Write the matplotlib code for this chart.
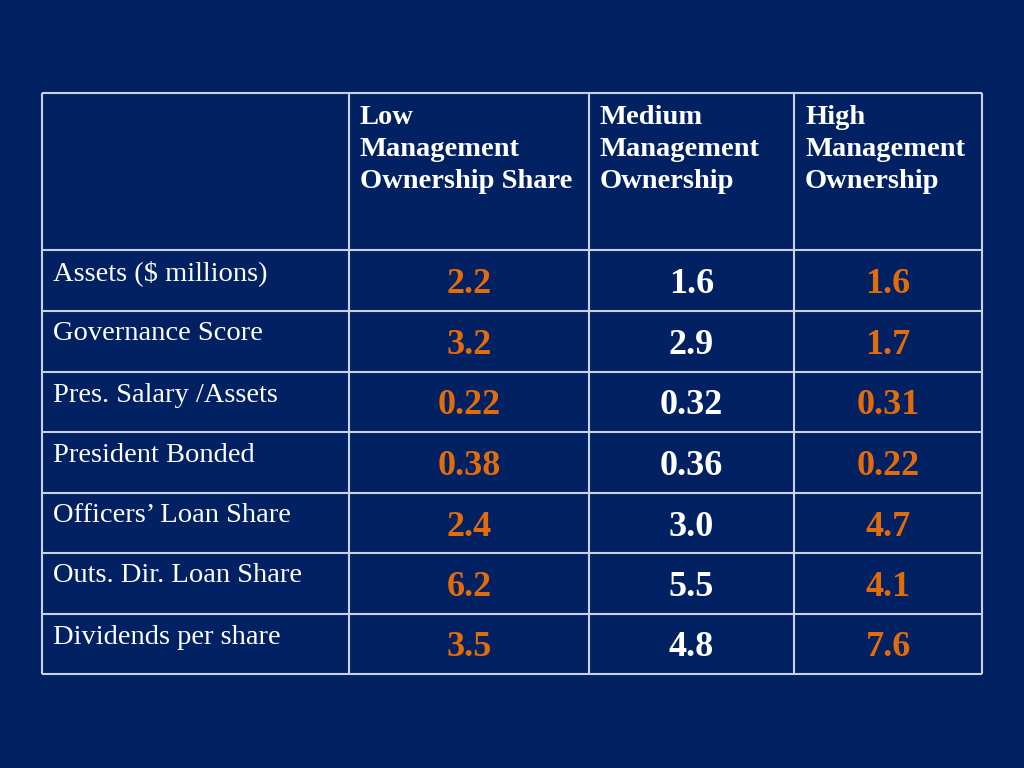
import matplotlib
matplotlib.use("Agg")
import matplotlib.pyplot as plt

# table contents
col_headers = ["Low\nManagement\nOwnership Share",
               "Medium\nManagement\nOwnership",
               "High\nManagement\nOwnership"]
row_labels = ["Assets ($ millions)", "Governance Score", "Pres. Salary /Assets",
              "President Bonded", "Officers\u2019 Loan Share", "Outs. Dir. Loan Share",
              "Dividends per share"]
low_vals = [2.2, 3.2, 0.22, 0.38, 2.4, 6.2, 3.5]
med_vals = [1.6, 2.9, 0.32, 0.36, 3.0, 5.5, 4.8]
high_vals = [1.6, 1.7, 0.31, 0.22, 4.7, 4.1, 7.6]
decimals = [1, 1, 2, 2, 1, 1, 1]

BG = "#012162"
ORANGE = "#E36C0A"
LINE = "#c9d1e3"
col_colors = [ORANGE, "white", ORANGE]

# layout in pixels
x_edges = [42, 349, 589, 794, 982]
y_edges = [93, 250, 311, 372, 432, 493, 553, 614, 674]

fig = plt.figure(figsize=(10.24, 7.68), dpi=100, facecolor=BG)
ax = fig.add_axes([0, 0, 1, 1])
ax.set_xlim(0, 1024)
ax.set_ylim(768, 0)
ax.axis("off")

ax.hlines(y_edges, x_edges[0], x_edges[-1], colors=LINE, linewidth=1.5)
ax.vlines(x_edges, y_edges[0], y_edges[-1], colors=LINE, linewidth=1.5)

font = "Liberation Serif"

# header cells
for j, head in enumerate(col_headers):
    for k, line in enumerate(head.split("\n")):
        ax.text(x_edges[j + 1] + 11, y_edges[0] + 24 + 32 * k, line,
                color="white", fontsize=20.5, fontweight="bold",
                family=font, ha="left", va="center")

# row labels and values
columns = [low_vals, med_vals, high_vals]
for i, label in enumerate(row_labels):
    top = y_edges[i + 1]
    bottom = y_edges[i + 2]
    ax.text(x_edges[0] + 11, top + 23, label, color="white", fontsize=20.5,
            family=font, ha="left", va="center")
    for j, vals in enumerate(columns):
        cx = (x_edges[j + 1] + x_edges[j + 2]) / 2
        ax.text(cx, (top + bottom) / 2 + 4, f"{vals[i]:.{decimals[i]}f}",
                color=col_colors[j], fontsize=26, fontweight="bold",
                family=font, ha="center", va="center")

fig.savefig("out.png", dpi=100, facecolor=BG)
